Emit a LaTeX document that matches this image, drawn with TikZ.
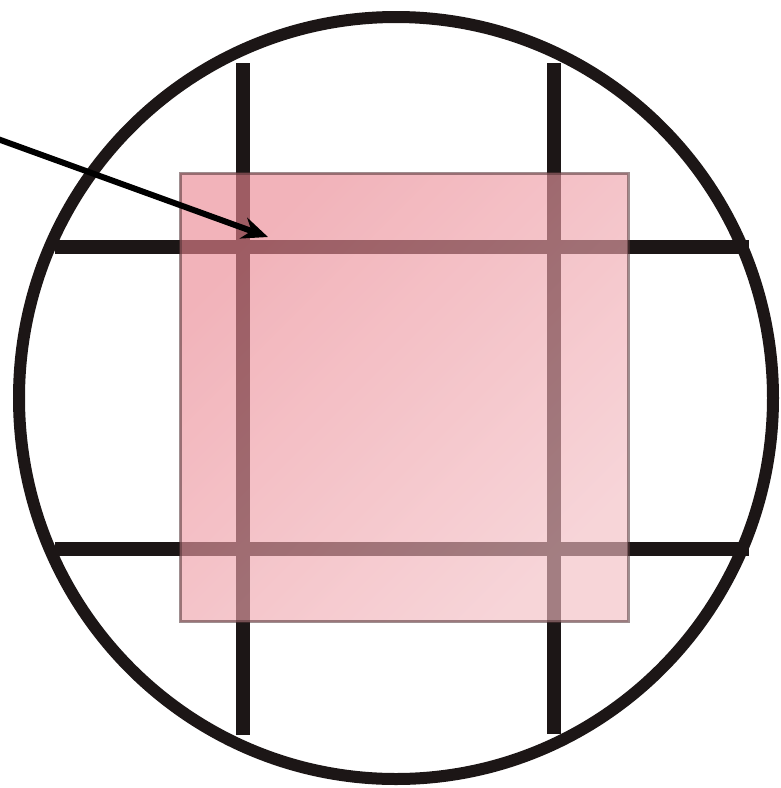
\documentclass[tikz,border=0pt]{standalone}
\usetikzlibrary{arrows.meta}
\definecolor{pinkTL}{RGB}{234,134,145}
\definecolor{pinkBR}{RGB}{242,188,194}
\definecolor{rectedge}{RGB}{80,50,52}
\definecolor{ink}{RGB}{28,22,22}
\tikzset{
  rim/.style={draw=ink, line width=12pt},
  gridline/.style={draw=ink, line width=14pt},
  overlay/.style={fill opacity=0.63, draw opacity=0.55, draw=rectedge, line width=3pt,
    top color=pinkTL, bottom color=pinkBR, shading angle=45},
  pointer/.style={draw=black, line width=6pt, -{Stealth[length=26pt,width=22pt]}}
}
\begin{document}
\begin{tikzpicture}[x=1pt,y=-1pt]
\useasboundingbox (0,0) rectangle (780,788);
% lens rim
\draw[rim] (396,398) ellipse [x radius=377, y radius=381];
% grid lines
\draw[gridline] (243,63) -- (243,735);
\draw[gridline] (554,63) -- (554,734);
\draw[gridline] (55,247) -- (749,247);
\draw[gridline] (55,549) -- (749,549);
% translucent square
\path[overlay] (180,173) rectangle (628,621);
% pointer
\coordinate (tail) at (-5,138);
\coordinate (tip) at (268,237);
\draw[pointer] (tail) -- (tip);
\end{tikzpicture}
\end{document}
